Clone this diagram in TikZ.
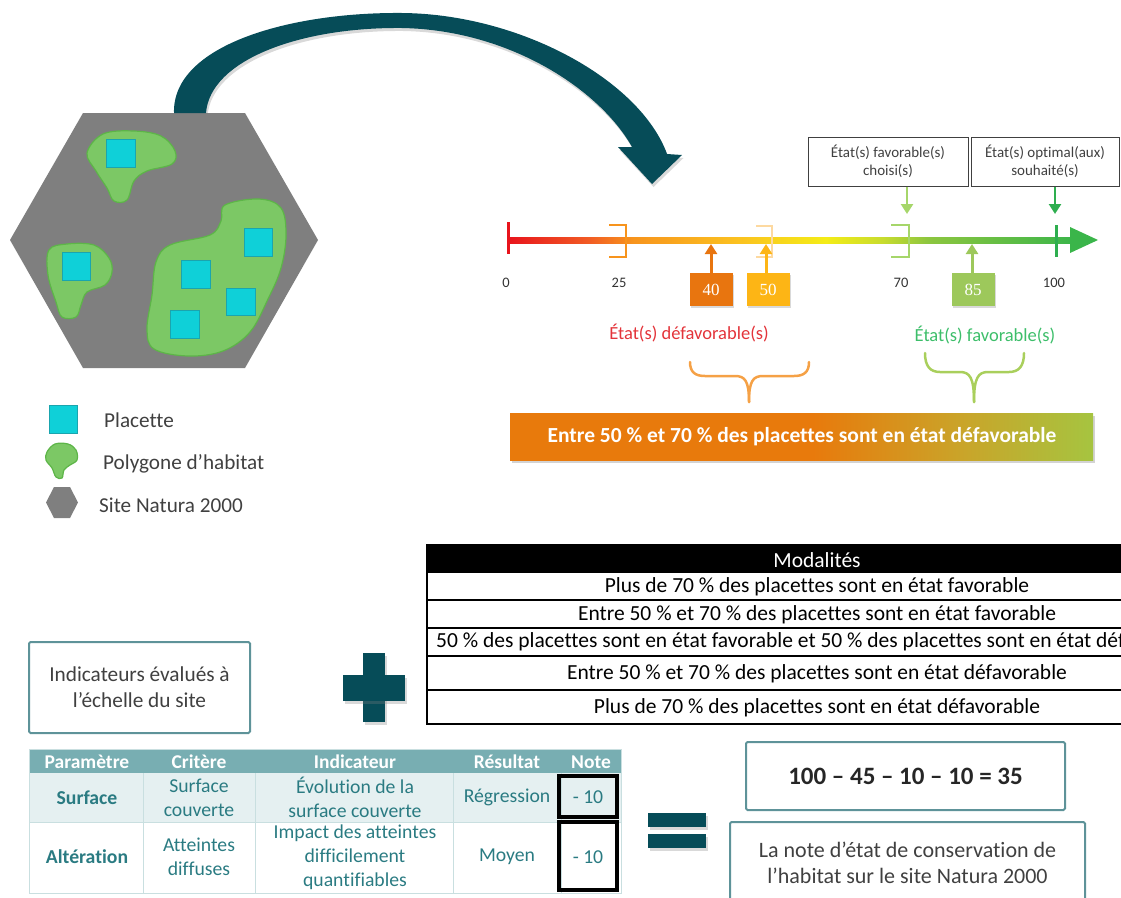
\documentclass[tikz,border=0pt]{standalone}
\usepackage{fontspec}
\setmainfont{Carlito}[Ligatures=NoCommon]
\newfontfamily\numfont{Liberation Serif}
\usetikzlibrary{arrows.meta,shadows,calc}
\definecolor{cTeal}{HTML}{064C58}
\definecolor{cHex}{HTML}{7F7F7F}
\definecolor{cBlob}{HTML}{7CC865}
\definecolor{cBlobB}{HTML}{5DB548}
\definecolor{cPlac}{HTML}{0FD0D8}
\definecolor{cPlacB}{HTML}{1AA5AE}
\definecolor{cLeg}{HTML}{404040}
\definecolor{sRed}{HTML}{E8141C}
\definecolor{sRedOr}{HTML}{F15A24}
\definecolor{sOr}{HTML}{F7941D}
\definecolor{sYelOr}{HTML}{FBC020}
\definecolor{sYel}{HTML}{F4EC17}
\definecolor{sLGr}{HTML}{C8DC2E}
\definecolor{sGr1}{HTML}{8DC63F}
\definecolor{sGr}{HTML}{3AB54A}
\definecolor{bOr}{HTML}{E87A0C}
\definecolor{bMid}{HTML}{C9A52A}
\definecolor{bGr}{HTML}{A6C440}
\definecolor{c40}{HTML}{E8750F}
\definecolor{c50}{HTML}{FDB515}
\definecolor{c85}{HTML}{9DC85B}
\definecolor{cLGr}{HTML}{A6D66A}
\definecolor{cDGr}{HTML}{2EAE4F}
\definecolor{cRedT}{HTML}{E3343A}
\definecolor{cGrT}{HTML}{3DBE6A}
\definecolor{cBrOr}{HTML}{F5A146}
\definecolor{cBrGr}{HTML}{A9CF5C}
\definecolor{cFaint}{HTML}{FDD9A0}
\definecolor{cTHead}{HTML}{78AEB2}
\definecolor{cTRow}{HTML}{E5F0F1}
\definecolor{cTTxt}{HTML}{2A7B82}
\definecolor{cTLine}{HTML}{C9DFE0}
\definecolor{cBoxB}{HTML}{5E9399}
\pgfdeclarehorizontalshading{scaleshade}{100bp}{color(0bp)=(sRed); color(25bp)=(sRed); color(32bp)=(sRedOr); color(36bp)=(sOr); color(45bp)=(sYelOr); color(53bp)=(sYel); color(58bp)=(sLGr); color(62bp)=(sGr1); color(75bp)=(sGr); color(100bp)=(sGr)}
\pgfdeclarehorizontalshading{bannershade}{100bp}{color(0bp)=(bOr); color(51bp)=(bOr); color(64bp)=(bMid); color(75bp)=(bGr); color(100bp)=(bGr)}
\tikzset{
  blob/.style={fill=cBlob, draw=cBlobB, line width=1.2pt},
  plac/.style={fill=cPlac, draw=cPlacB, line width=1pt},
  legtxt/.style={font=\fontsize{21.2}{25}\selectfont, text=cLeg, inner sep=0, anchor=base west},
  ticklab/.style={font=\fontsize{14.5}{17}\selectfont, text=black!80, inner sep=0},
  numbox/.style={minimum width=43pt, minimum height=33pt, inner sep=0, text=white, font=\numfont\fontsize{17}{20}\selectfont, drop shadow={opacity=0.3, shadow xshift=1.5pt, shadow yshift=-2pt}},
  lbox/.style={draw=black!75, line width=1pt, minimum height=49pt, inner sep=0, align=center, font=\fontsize{15}{18}\selectfont, text=black!75},
  sarr/.style={line width=3pt, -{Triangle[width=12pt,length=10pt]}},
  brace/.style={line width=2.5pt, line cap=round},
  mtxt/.style={font=\fontsize{21.5}{25}\selectfont, inner sep=0},
  tline/.style={line width=2pt, black},
  ttxt/.style={font=\fontsize{19.7}{24}\selectfont, text=cTTxt, align=center, inner sep=0},
  thd/.style={font=\bfseries\fontsize{19.5}{24}\selectfont, text=white, inner sep=0},
  notebox/.style={draw=black, line width=3.5pt},
  tbox/.style={draw=cBoxB, line width=2pt, rounded corners=1.5pt, align=center, inner sep=0},
  bigsym/.style={fill=cTeal, drop shadow={opacity=0.3, shadow xshift=1.5pt, shadow yshift=-2.5pt}},
}
\begin{document}
\begin{tikzpicture}[x=1pt,y=-1pt]
\useasboundingbox (0,0) rectangle (1121,897);
% ---------------- site map ----------------
\fill[cHex] (83,113) -- (245,113) -- (318,240) -- (245,368) -- (83,368) -- (10,240) -- cycle;
\filldraw[blob] plot[smooth cycle, tension=0.6] coordinates {(87,153) (103,134) (134,131) (161,136) (175,151) (172,164) (147,171) (134,181) (127,200) (114,201) (107,188) (96,171)};
\filldraw[blob] plot[smooth cycle, tension=0.6] coordinates {(49,250) (67,244) (94,245) (109,258) (112,272) (105,285) (87,292) (81,305) (76,317) (62,317) (56,302) (48,275)};
\filldraw[blob] plot[smooth cycle, tension=0.6] coordinates {(225,205) (259,199) (281,208) (286,235) (281,268) (268,299) (250,332) (223,351) (188,356) (154,349) (147,329) (152,295) (156,262) (170,245) (210,235) (221,221)};
\filldraw[plac] (106,139) rectangle (135,167);
\filldraw[plac] (62,252) rectangle (90,280);
\filldraw[plac] (244,228) rectangle (272,256);
\filldraw[plac] (181,260) rectangle (210,288);
\filldraw[plac] (226,288) rectangle (255,315);
\filldraw[plac] (170,310) rectangle (199,338);
% big curved arrow
\fill[cTeal, drop shadow={opacity=0.3, shadow xshift=1.5pt, shadow yshift=-3pt}] (174,113) .. controls (172,45) and (290,12) .. (402,13) .. controls (520,14) and (640,80) .. (667,154) -- (682,155) -- (652,184) -- (618,147) -- (632,147) .. controls (600,90) and (510,30) .. (402,28) .. controls (300,27) and (210,60) .. (206,113) -- cycle;
% ---------------- legend ----------------
\filldraw[plac] (49,405) rectangle (77,433);
\filldraw[blob] plot[smooth cycle, tension=0.6] coordinates {(47,452) (55,444) (68,444) (76,450) (77,460) (70,465) (64,470) (62,478) (56,477) (52,468) (46,460)};
\fill[cHex] (54,487) -- (70,487) -- (78,502.5) -- (70,518) -- (54,518) -- (46,502.5) -- cycle;
\node[legtxt] (lg1) at (104,427) {Placette};
\node[legtxt] (lg2) at (103,469) {Polygone d’habitat};
\node[legtxt] (lg3) at (99,512) {Site Natura 2000};
% ---------------- scale ----------------
\shade[shading=scaleshade] (508,237) rectangle (1075,243);
\fill[sGr] (1070,227) -- (1098,240) -- (1070,253) -- cycle;
\draw[sRed, line width=3pt] (508,222) -- (508,254);
\draw[sOr, line width=2.5pt] (609,225) -- (626,225) -- (626,257) -- (609,257);
\draw[cFaint, line width=2.5pt] (756,226) -- (772,226) -- (772,257) -- (756,257);
\draw[cLGr, line width=2.5pt] (891,225) -- (909,225) -- (909,257) -- (891,257);
\draw[cDGr, line width=3pt] (1056,225) -- (1056,257);
\node[ticklab] (t0) at (506,283) {0};
\node[ticklab] (t25) at (619,283) {25};
\node[ticklab] (t70) at (901,283) {70};
\node[ticklab] (t100) at (1054,283) {100};
\node[numbox, fill=c40] (b40) at (711,289.5) {40};
\node[numbox, fill=c50] (b50) at (768,289.5) {50};
\node[numbox, fill=c85] (b85) at (973,289.5) {85};
\coordinate (p40) at (711,244);
\coordinate (p50) at (766,244);
\coordinate (p85) at (972,244);
\draw[sarr, c40] (b40.north -| p40) -- (p40);
\draw[sarr, c50] (b50.north -| p50) -- (p50);
\draw[sarr, c85] (b85.north -| p85) -- (p85);
\node[lbox, minimum width=160pt] (lb1) at (888,161.5) {État(s) favorable(s)\\choisi(s)};
\node[lbox, minimum width=148pt] (lb2) at (1045,161.5) {État(s) optimal(aux)\\souhaité(s)};
\coordinate (q70) at (907,214);
\coordinate (q100) at (1055,214);
\draw[sarr, cLGr, line width=2.5pt] (lb1.south -| q70) -- (q70);
\draw[sarr, cDGr, line width=2.5pt] (lb2.south -| q100) -- (q100);
\node[font=\fontsize{18.5}{22}\selectfont, text=cRedT, inner sep=0] (ldef) at (689,333) {État(s) défavorable(s)};
\node[font=\fontsize{18.5}{22}\selectfont, text=cGrT, inner sep=0] (lfav) at (985,335) {État(s) favorable(s)};
% braces
\draw[brace, cBrOr] (690,362) .. controls (690,372) and (695,376) .. (705,376) -- (735,376) .. controls (745,376) and (749,381) .. (749,402);
\draw[brace, cBrOr] (809,362) .. controls (809,372) and (804,376) .. (794,376) -- (763,376) .. controls (753,376) and (749,381) .. (749,402);
\draw[brace, cBrGr] (925,353) .. controls (925,366) and (930,372) .. (940,372) -- (960,372) .. controls (970,372) and (974,378) .. (974,402);
\draw[brace, cBrGr] (1024,353) .. controls (1024,366) and (1019,372) .. (1009,372) -- (988,372) .. controls (978,372) and (974,378) .. (974,402);
% banner
\shade[shading=bannershade, drop shadow={opacity=0.35, shadow xshift=2pt, shadow yshift=-3pt}] (510,413) rectangle (1093,460);
\node[font=\bfseries\fontsize{21.5}{25}\selectfont, text=white, inner sep=0] (bann) at (802,437) {Entre 50 \% et 70 \% des placettes sont en état défavorable};
% ---------------- modalites table ----------------
\begin{scope}
\clip (420,540) rectangle (1121,730);
\fill[black] (427,545) rectangle (1140,573);
\draw[tline] (427,545) rectangle (1140,724);
\foreach \yy in {600,628,656,690} \draw[tline] (427,\yy) -- (1140,\yy);
\node[mtxt, text=white] (m0) at (817,560) {Modalités};
\node[mtxt] (m1) at (817,587) {Plus de 70 \% des placettes sont en état favorable};
\node[mtxt] (m2) at (817,614.5) {Entre 50 \% et 70 \% des placettes sont en état favorable};
\node[mtxt, anchor=west] (m3) at (436,642) {50 \% des placettes sont en état favorable et 50 \% des placettes sont en état défavorable};
\node[mtxt] (m4) at (817,673.5) {Entre 50 \% et 70 \% des placettes sont en état défavorable};
\node[mtxt] (m5) at (817,708) {Plus de 70 \% des placettes sont en état défavorable};
\end{scope}
% ---------------- indicators ----------------
\node[tbox, minimum width=221pt, minimum height=91pt, font=\fontsize{21.3}{26}\selectfont, text=cLeg] (ind) at (139.5,687.5) {Indicateurs évalués à\\l’échelle du site};
\fill[bigsym] (363,653) rectangle (385,722);
\fill[bigsym] (343,675) rectangle (405,701);
% table
\fill[cTHead] (29,749) rectangle (621,773);
\fill[cTRow] (29,773) rectangle (621,822);
\draw[cTLine, line width=1pt] (29,749) rectangle (621,893);
\draw[cTLine, line width=1pt] (29,822) -- (621,822);
\foreach \xx in {143,255,453,561} \draw[cTLine, line width=1pt] (\xx,773) -- (\xx,893);
\node[thd] (h1) at (87,762) {Paramètre};
\node[thd] (h2) at (199,762) {Critère};
\node[thd] (h3) at (355,762) {Indicateur};
\node[thd] (h4) at (507,762) {Résultat};
\node[thd] (h5) at (591,762) {Note};
\node[ttxt, font=\bfseries\fontsize{19.7}{24}\selectfont] (r1a) at (87,797.5) {Surface};
\node[ttxt] (r1b) at (199,797.5) {Surface\\couverte};
\node[ttxt] (r1c) at (355,797.5) {Évolution de la\\surface couverte};
\node[ttxt] (r1d) at (507,797.5) {Régression};
\node[ttxt, font=\bfseries\fontsize{19.7}{24}\selectfont] (r2a) at (87,857) {Altération};
\node[ttxt] (r2b) at (199,857) {Atteintes\\diffuses};
\node[ttxt] (r2c) at (355,857) {Impact des atteintes\\difficilement\\quantifiables};
\node[ttxt] (r2d) at (507,857) {Moyen};
\draw[notebox] (559,776) rectangle (617,817);
\draw[notebox] (559,822) rectangle (617,890);
\node[ttxt] (n1) at (588,797) {- 10};
\node[ttxt] (n2) at (588,857) {- 10};
% equals
\fill[bigsym] (648,813) rectangle (706,827);
\fill[bigsym] (648,834) rectangle (706,848);
% results
\node[tbox, minimum width=319pt, minimum height=68pt, font=\bfseries\fontsize{25}{30}\selectfont, text=black!85] (res) at (905.5,776) {100 – 45 – 10 – 10 = 35};
\node[tbox, minimum width=355pt, minimum height=82pt, font=\fontsize{22}{26}\selectfont, text=cLeg] (note) at (907.5,863) {La note d’état de conservation de\\l’habitat sur le site Natura 2000};
\end{tikzpicture}
\end{document}
